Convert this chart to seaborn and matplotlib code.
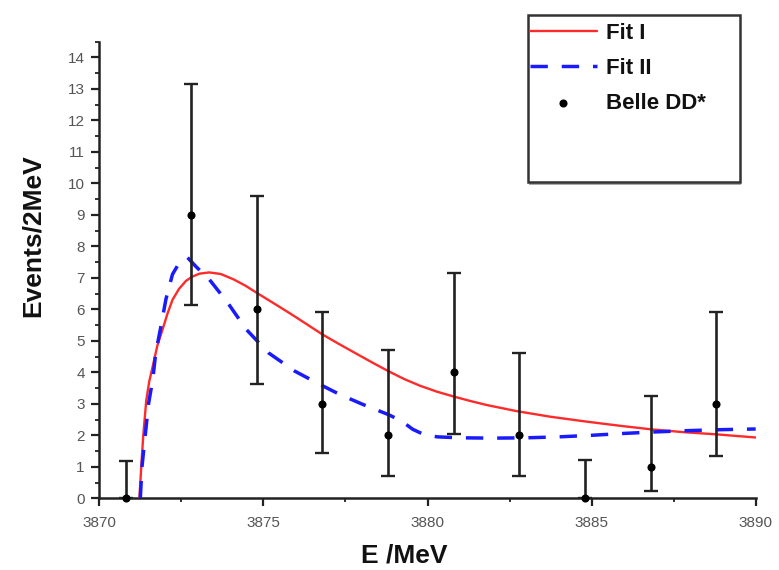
import numpy as np
import pandas as pd
import matplotlib
matplotlib.use("Agg")
import matplotlib.pyplot as plt
from matplotlib.patches import Rectangle
from matplotlib.ticker import MultipleLocator
import seaborn as sns

# ---- data ----
data_x = [3870.8, 3872.8, 3874.8, 3876.8, 3878.8, 3880.8, 3882.8, 3884.8, 3886.8, 3888.8]
data_y = [0, 9, 6, 3, 2, 4, 2, 0, 1, 3]
err_lo = [0.0, 6.15, 3.62, 1.45, 0.72, 2.05, 0.72, 0.0, 0.22, 1.35]
err_hi = [1.17, 13.14, 9.58, 5.91, 4.71, 7.14, 4.62, 1.2, 3.25, 5.91]

fit1_x = [3871.22, 3871.25, 3871.29, 3871.34, 3871.43, 3871.52, 3871.63, 3871.77, 3871.93,
          3872.08, 3872.23, 3872.43, 3872.64, 3872.82, 3873.05, 3873.35, 3873.7, 3874.09,
          3874.45, 3874.8, 3875.3, 3875.81, 3876.3, 3876.8, 3877.3, 3877.85, 3878.3,
          3878.8, 3879.3, 3879.78, 3880.3, 3880.8, 3881.3, 3881.81, 3882.7, 3883.74,
          3884.8, 3885.8, 3886.8, 3887.8, 3888.8, 3890.0]
fit1_y = [0.0, 0.5, 1.2, 2.0, 3.1, 3.7, 4.2, 4.85, 5.37,
          5.87, 6.3, 6.65, 6.9, 7.03, 7.13, 7.17, 7.12, 6.95,
          6.75, 6.52, 6.2, 5.87, 5.54, 5.2, 4.9, 4.58, 4.32,
          4.04, 3.78, 3.57, 3.38, 3.23, 3.09, 2.96, 2.77, 2.59,
          2.44, 2.31, 2.19, 2.1, 2.03, 1.93]

fit2_x = [3871.25, 3871.3, 3871.4, 3871.5, 3871.63, 3871.72, 3871.88, 3872.03, 3872.23,
          3872.45, 3872.69, 3872.95, 3873.35, 3873.91, 3874.47, 3875.15, 3875.95, 3876.71,
          3877.32, 3878.03, 3878.8, 3879.2, 3879.55, 3879.9, 3880.3, 3881.0, 3882.0, 3883.0,
          3884.0, 3885.0, 3886.0, 3887.0, 3888.0, 3889.0, 3890.0]
fit2_y = [0.0, 1.0, 2.0, 3.0, 3.78, 4.62, 5.47, 6.32, 7.11,
          7.5, 7.64, 7.35, 6.95, 6.21, 5.37, 4.62, 4.04, 3.62,
          3.3, 2.98, 2.66, 2.46, 2.19, 2.02, 1.95, 1.92, 1.91, 1.92,
          1.95, 2.0, 2.06, 2.11, 2.15, 2.18, 2.2]

x_ticks = [3870, 3875, 3880, 3885, 3890]
y_ticks = list(range(0, 15))

sns.set_style("ticks")
plt.rcParams["font.family"] = ["Liberation Sans", "DejaVu Sans"]

fig = plt.figure(figsize=(7.79, 5.70), dpi=100)
ax = fig.add_axes([99.3 / 779, 1 - 498.3 / 570, (755.7 - 99.3) / 779, (498.3 - 41.5) / 570])

df1 = pd.DataFrame({"E": fit1_x, "N": fit1_y})
df2 = pd.DataFrame({"E": fit2_x, "N": fit2_y})
dd = pd.DataFrame({"E": data_x, "N": data_y})

sns.lineplot(data=df1, x="E", y="N", ax=ax, color="#ff2a2a", lw=1.7, sort=False,
             label="Fit I", zorder=3)
sns.lineplot(data=df2, x="E", y="N", ax=ax, color="#1a1aff", lw=2.5, sort=False,
             label="Fit II", zorder=3)
l2 = ax.get_lines()[-1]
l2.set_dashes((5, 4))

lo = np.array(data_y) - np.array(err_lo)
hi = np.array(err_hi) - np.array(data_y)
ax.errorbar(data_x, data_y, yerr=[lo, hi], fmt="none", ecolor="#222222",
            elinewidth=1.9, capsize=5, capthick=1.7, zorder=4)
sns.scatterplot(data=dd, x="E", y="N", ax=ax, color="black", marker="o", s=34,
                edgecolor="black", linewidth=0, label="Belle DD*", zorder=5, clip_on=False)

ax.set_xlim(3870, 3890)
ax.set_ylim(0, 14.5)
ax.set_xticks(x_ticks)
ax.set_xticklabels([str(t) for t in x_ticks])
ax.set_yticks(y_ticks)
ax.xaxis.set_minor_locator(MultipleLocator(2.5))
ax.yaxis.set_minor_locator(MultipleLocator(0.5))
ax.tick_params(axis="both", which="major", length=5.5, width=1.6, color="#222222",
               labelsize=11, labelcolor="#555555", direction="out")
ax.tick_params(axis="both", which="minor", length=3, width=1.3, color="#222222",
               direction="out")
ax.tick_params(axis="x", pad=7)
ax.tick_params(axis="y", pad=5)
for s in ["top", "right"]:
    ax.spines[s].set_visible(False)
for s in ["left", "bottom"]:
    ax.spines[s].set_linewidth(1.8)
    ax.spines[s].set_color("#222222")

ax.set_xlabel("E /MeV", fontsize=19, fontweight="bold", color="#111111")
ax.set_ylabel("Events/2MeV", fontsize=19, fontweight="bold", color="#111111")
ax.xaxis.set_label_coords(0.464, -0.100)
ax.yaxis.set_label_coords(-0.083, 0.574)

# legend box (frame drawn in figure coordinates)
handles, labels = ax.get_legend_handles_labels()
ax.get_legend().remove()
bx0, bx1, by0, by1 = 528 / 779, 740 / 779, 1 - 182 / 570, 1 - 15 / 570
fig.patches.append(Rectangle((bx0 + 1 / 779, by0 - 3 / 570), bx1 - bx0, by1 - by0,
                             transform=fig.transFigure, facecolor="#aaaaaa",
                             edgecolor="none", zorder=0))
fig.patches.append(Rectangle((bx0, by0), bx1 - bx0, by1 - by0,
                             transform=fig.transFigure, facecolor="white",
                             edgecolor="#333333", lw=1.8, zorder=1))
leg = fig.legend(handles, labels, loc="upper left",
                 bbox_to_anchor=(530 / 779, 1 - 23 / 570), frameon=False,
                 prop={"weight": "bold", "size": 16}, handlelength=3.0,
                 handletextpad=0.4, labelspacing=0.62, borderaxespad=0,
                 borderpad=0, markerscale=1.0)
for t in leg.get_texts():
    t.set_color("#111111")

fig.savefig("out.png", dpi=100)
